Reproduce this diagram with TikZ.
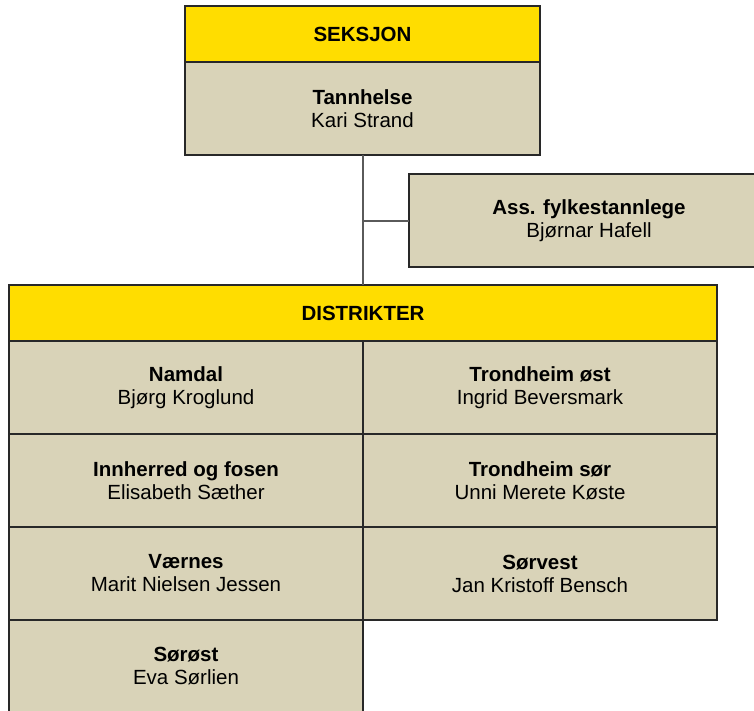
\documentclass[tikz,border=0pt]{standalone}
\usepackage{fontspec}
\setmainfont{Liberation Sans}
\usepackage{tikz}
\usetikzlibrary{positioning, calc}
\definecolor{OrgGul}{RGB}{255,221,0}
\definecolor{OrgSand}{RGB}{217,211,184}
\definecolor{OrgKant}{RGB}{40,40,40}
\definecolor{OrgLinje}{RGB}{90,90,90}

\tikzset{
    orgbox/.style={shape=rectangle, draw=OrgKant, line width=1.3pt, inner sep=0pt, outer sep=0pt,
                   anchor=north west, align=center, font=\fontsize{20.5}{23}\selectfont},
    headbox/.style={orgbox, fill=OrgGul, minimum height=56pt, font=\fontsize{20.5}{23}\selectfont\bfseries},
    cellbox/.style={orgbox, fill=OrgSand, minimum height=93pt, minimum width=354pt},
    orgline/.style={draw=OrgLinje, line width=2pt}
}

\begin{document}
\begin{tikzpicture}[x=1pt, y=-1pt]
    \clip (0,0) rectangle (754,710);
    \fill[white] (0,0) rectangle (754,710);
    % seksjon
    \node[headbox, minimum width=355pt]            (seksHead) at (185,  6) {SEKSJON};
    \node[cellbox, minimum width=355pt]            (seksBody) at (185, 62) {\textbf{Tannhelse}\\Kari Strand};
    \node[cellbox, minimum width=360pt]            (ass)      at (409,174) {\textbf{Ass. fylkestannlege}\\Bjørnar Hafell};
    % distrikter
    \node[headbox, minimum width=708pt]            (distHead) at (  9,285) {DISTRIKTER};
    \node[cellbox] (namdal)     at (  9,341) {\textbf{Namdal}\\Bjørg Kroglund};
    \node[cellbox] (trhOst)     at (363,341) {\textbf{Trondheim øst}\\Ingrid Beversmark};
    \node[cellbox] (innherred)  at (  9,434) {\textbf{Innherred og fosen}\\Elisabeth Sæther};
    \node[cellbox] (trhSor)     at (363,434) {\textbf{Trondheim sør}\\Unni Merete Køste};
    \node[cellbox] (varnes)     at (  9,527) {\textbf{Værnes}\\Marit Nielsen Jessen};
    \node[cellbox] (sorvest)    at (363,527) {\textbf{Sørvest}\\Jan Kristoff Bensch};
    \node[cellbox] (sorost)     at (  9,620) {\textbf{Sørøst}\\Eva Sørlien};
    % linjer
    \coordinate (junction) at (seksBody.south |- ass.west);
    \path[orgline] (seksBody.south) edge (seksBody.south |- distHead.north);
    \path[orgline] (junction)       edge (ass.west);
\end{tikzpicture}
\end{document}
